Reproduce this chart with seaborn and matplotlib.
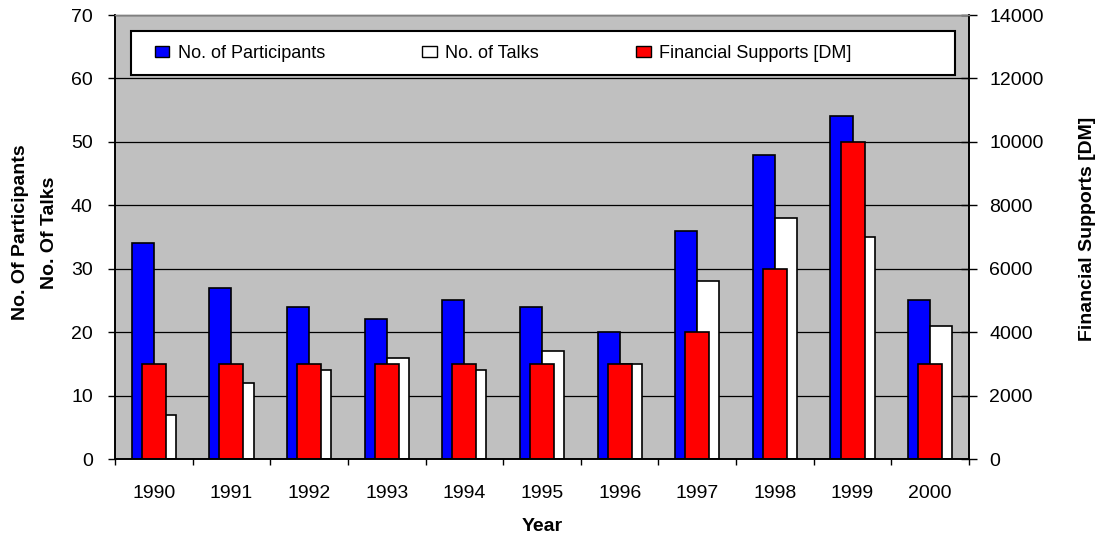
import numpy as np
import pandas as pd
import matplotlib
matplotlib.use("Agg")
import matplotlib.pyplot as plt
import seaborn as sns
from matplotlib.patches import Patch, Rectangle

# ---- data ----
years = ["1990", "1991", "1992", "1993", "1994", "1995", "1996", "1997", "1998", "1999", "2000"]
participants = [34, 27, 24, 22, 25, 24, 20, 36, 48, 54, 25]
talks = [7, 12, 14, 16, 14, 17, 15, 28, 38, 35, 21]
financial = [3000, 3000, 3000, 3000, 3000, 3000, 3000, 4000, 6000, 10000, 3000]
left_ticks = [0, 10, 20, 30, 40, 50, 60, 70]
right_ticks = [0, 2000, 4000, 6000, 8000, 10000, 12000, 14000]
series_names = ["No. of Participants", "No. of Talks", "Financial Supports [DM]"]

sns.set_theme(style="white")
plt.rcParams["font.family"] = ["Liberation Sans", "DejaVu Sans"]
plt.rcParams["text.color"] = "black"
plt.rcParams["axes.labelcolor"] = "black"
plt.rcParams["xtick.color"] = "black"
plt.rcParams["ytick.color"] = "black"

W, H = 1098, 538
fig = plt.figure(figsize=(W / 100, H / 100), dpi=100)
L, R, T, B = 115, 969, 15, 459
ax = fig.add_axes([L / W, (H - B) / H, (R - L) / W, (B - T) / H])

df = pd.DataFrame({
    "Year": years * 2,
    "Value": participants + talks,
    "Series": [series_names[0]] * len(years) + [series_names[1]] * len(years),
})
sns.barplot(data=df, x="Year", y="Value", hue="Series", order=years,
            hue_order=series_names[:2],
            palette={series_names[0]: "#0000FF", series_names[1]: "#FFFFFF"},
            width=0.57, gap=0, saturation=1, edgecolor="black", linewidth=1.2,
            errorbar=None, legend=False, ax=ax)

ax2 = ax.twinx()
sns.barplot(x=years, y=financial, order=years, color="#FF0000", saturation=1,
            width=0.31, edgecolor="black", linewidth=1.2, errorbar=None, ax=ax2)

ax.set_xlim(-0.5, len(years) - 0.5)
ax.set_ylim(0, 70)
ax2.set_ylim(0, 14000)
ax.set_yticks(left_ticks)
ax2.set_yticks(right_ticks)

ax.set_facecolor("#C0C0C0")
ax.set_axisbelow(True)
ax.yaxis.grid(True, color="black", linewidth=0.9)
ax.xaxis.grid(False)

for a in (ax, ax2):
    for s in a.spines.values():
        s.set_color("black")
        s.set_linewidth(1.2)
    a.spines["top"].set_color("#808080")
    a.spines["top"].set_linewidth(1.0)

ax.tick_params(axis="y", direction="out", length=5, width=1, labelsize=14, pad=11, left=True)
ax2.tick_params(axis="y", direction="inout", length=12, width=1, labelsize=14, pad=8.5, right=True)
ax.tick_params(axis="x", which="major", length=0, pad=19, labelsize=14)
ax.set_xticks(np.arange(-0.5, len(years), 1), minor=True)
ax.tick_params(axis="x", which="minor", direction="out", length=4.5, width=1, bottom=True)

ax.set_xlabel("Year", fontsize=14, fontweight="bold", labelpad=11)
ax.set_ylabel("No. Of Participants\nNo. Of Talks", fontsize=14, fontweight="bold",
              linespacing=1.85)
ax.yaxis.set_label_coords((35 - L) / (R - L), 0.51)
ax.yaxis.label.set_va("center")
ax2.set_ylabel("Financial Supports [DM]", fontsize=14, fontweight="bold")
ax2.yaxis.set_label_coords((1087 - L) / (R - L), 0.519)
ax2.yaxis.label.set_va("center")
ax2.yaxis.label.set_rotation(90)

# legend box (frame) spanning the width of the plot
x0 = (131 - L) / (R - L)
x1 = (955 - L) / (R - L)
ytop = (B - 31) / (B - T)
ybot = (B - 75) / (B - T)
frame = Rectangle((x0, ybot), x1 - x0, ytop - ybot, transform=ax2.transAxes,
                  facecolor="white", edgecolor="black", linewidth=1.5, zorder=5)
ax2.add_patch(frame)

handles = [Patch(facecolor="#0000FF", edgecolor="black"),
           Patch(facecolor="#FFFFFF", edgecolor="black"),
           Patch(facecolor="#FF0000", edgecolor="black")]
leg = ax2.legend(handles, series_names, ncol=3, loc="center left",
                 bbox_to_anchor=((155 - L) / (R - L), (ytop + ybot) / 2),
                 fontsize=13, frameon=False, handlelength=0.8, handleheight=0.55,
                 handletextpad=0.45, borderaxespad=0, borderpad=0, columnspacing=5.4)
leg.set_zorder(6)

fig.savefig("out.png", dpi=100)
